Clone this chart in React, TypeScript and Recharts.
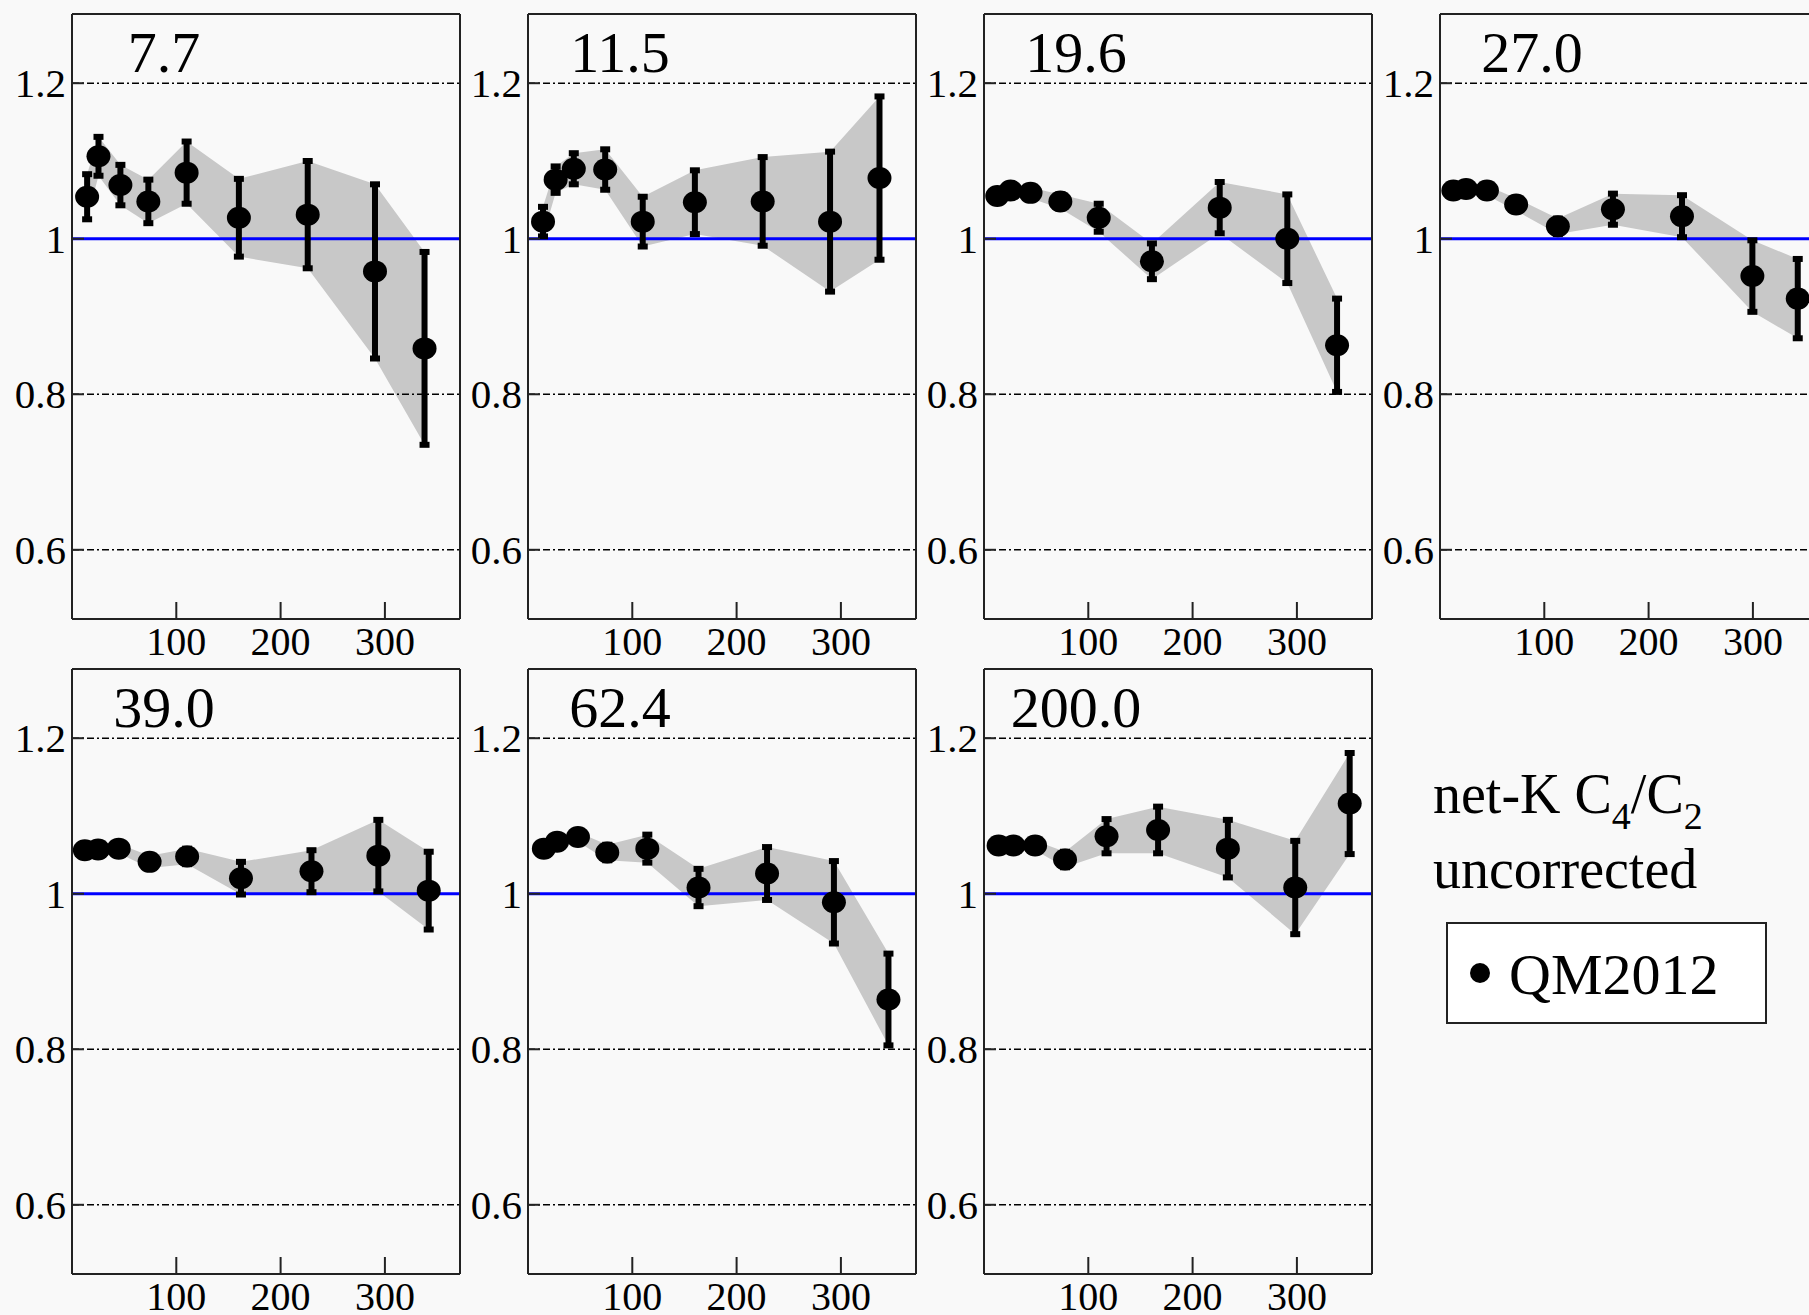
import React from "react";
import {
  ComposedChart,
  Area,
  Scatter,
  ErrorBar,
  XAxis,
  YAxis,
  ReferenceLine,
} from "recharts";

// beam energies (GeV), one panel each
const titles = ["7.7", "11.5", "19.6", "27.0", "39.0", "62.4", "200.0"];

// <Npart> of each centrality bin, C4/C2 value, error half-length
const x77 = [14.5, 25.4, 46.4, 73.2, 109.9, 160, 226, 290.5, 338];
const y77 = [1.054, 1.106, 1.069, 1.048, 1.085, 1.027, 1.031, 0.958, 0.859];
const e77 = [0.029, 0.025, 0.026, 0.028, 0.04, 0.05, 0.069, 0.112, 0.124];

const x115 = [14.4, 26.5, 43.9, 74, 110, 160, 225, 289.6, 337];
const y115 = [1.022, 1.076, 1.09, 1.089, 1.022, 1.047, 1.048, 1.022, 1.078];
const e115 = [0.019, 0.017, 0.02, 0.026, 0.032, 0.041, 0.057, 0.09, 0.105];

const x196 = [12.7, 25.5, 44.6, 73.2, 110, 161, 226, 290.8, 338.5];
const y196 = [1.055, 1.062, 1.059, 1.048, 1.027, 0.971, 1.04, 1.0, 0.863];
const e196 = [0.006, 0.006, 0.007, 0.009, 0.018, 0.023, 0.033, 0.057, 0.06];

const x270 = [12.8, 25, 45, 73, 113, 165.8, 232, 299.5, 343];
const y270 = [1.062, 1.064, 1.062, 1.044, 1.016, 1.038, 1.029, 0.952, 0.923];
const e270 = [0.005, 0.005, 0.006, 0.008, 0.01, 0.02, 0.027, 0.046, 0.051];

const x390 = [12.3, 25, 44.8, 74.4, 110.4, 162, 229.6, 293.7, 342];
const y390 = [1.056, 1.057, 1.058, 1.041, 1.048, 1.02, 1.029, 1.049, 1.004];
const e390 = [0.005, 0.005, 0.006, 0.008, 0.01, 0.021, 0.027, 0.046, 0.05];

const x624 = [15.2, 27.9, 47.9, 76, 114.4, 163.5, 229.2, 293.3, 345.6];
const y624 = [1.058, 1.067, 1.073, 1.053, 1.058, 1.008, 1.026, 0.989, 0.864];
const e624 = [0.005, 0.006, 0.006, 0.01, 0.018, 0.024, 0.034, 0.053, 0.059];

const x2000 = [14, 28.3, 49, 77.7, 117.5, 166.9, 233.8, 298.4, 350.6];
const y2000 = [1.062, 1.062, 1.062, 1.044, 1.074, 1.082, 1.058, 1.008, 1.116];
const e2000 = [0.005, 0.005, 0.006, 0.01, 0.022, 0.03, 0.037, 0.06, 0.065];

const xTicks = [100, 200, 300];
const yTicks = [0.6, 0.8, 1, 1.2];
const dashedLevels = [0.6, 0.8, 1.2];

const seriesX = [x77, x115, x196, x270, x390, x624, x2000];
const seriesY = [y77, y115, y196, y270, y390, y624, y2000];
const seriesE = [e77, e115, e196, e270, e390, e624, e2000];

const X_DOMAIN: [number, number] = [0, 372];
const Y_DOMAIN: [number, number] = [0.511, 1.289];

const FONT = "'Liberation Serif', 'Times New Roman', serif";
const FRAME = { stroke: "#222", strokeWidth: 2 };

const PLOT_W = 388;
const PLOT_H = 605;
const Y_AXIS_W = 62;
const TOP_M = 4;
const colLeft = [72, 528, 984, 1440];
const rowTop = [14, 669];

const XTick = (props: any) => {
  const { x, y, payload } = props;
  return (
    <g>
      <line x1={x} y1={y} x2={x} y2={y - 17} stroke="#222" strokeWidth={2} />
      <text x={x} y={y + 36} textAnchor="middle" fontFamily={FONT} fontSize={40} fill="#000">
        {payload.value}
      </text>
    </g>
  );
};

const YTick = (props: any) => {
  const { x, y, payload } = props;
  const v = payload.value;
  return (
    <g>
      <line x1={x} y1={y} x2={x + 12} y2={y} stroke="#222" strokeWidth={2} />
      <text x={x - 6} y={y + 14} textAnchor="end" fontFamily={FONT} fontSize={41} fill="#000">
        {v === 1 ? "1" : v.toFixed(1)}
      </text>
    </g>
  );
};

const Dot = (props: any) => (
  <ellipse cx={props.cx} cy={props.cy} rx={12} ry={11} fill="#000" />
);

function Panel({ idx }: { idx: number }) {
  const xs = seriesX[idx];
  const data = xs.map((x, i) => ({
    x,
    y: seriesY[idx][i],
    err: seriesE[idx][i],
    band: [seriesY[idx][i] - seriesE[idx][i], seriesY[idx][i] + seriesE[idx][i]],
  }));
  const left = colLeft[idx % 4] - Y_AXIS_W;
  const top = rowTop[Math.floor(idx / 4)] - TOP_M;

  return (
    <div style={{ position: "absolute", left, top }}>
      <ComposedChart
        width={Y_AXIS_W + PLOT_W + 4}
        height={TOP_M + PLOT_H + 50}
        data={data}
        margin={{ top: TOP_M, right: 4, bottom: 0, left: 0 }}
      >
        <XAxis
          dataKey="x"
          type="number"
          domain={X_DOMAIN}
          ticks={xTicks}
          interval={0}
          allowDataOverflow
          height={50}
          axisLine={FRAME}
          tickLine={false}
          tickSize={0}
          tickMargin={0}
          tick={<XTick />}
        />
        <YAxis
          type="number"
          domain={Y_DOMAIN}
          ticks={yTicks}
          interval={0}
          allowDataOverflow
          width={Y_AXIS_W}
          axisLine={FRAME}
          tickLine={false}
          tickSize={0}
          tickMargin={0}
          tick={<YTick />}
        />
        <Area
          dataKey="band"
          type="linear"
          stroke="none"
          fill="#c8c8c8"
          fillOpacity={1}
          isAnimationActive={false}
        />
        {dashedLevels.map((v) => (
          <ReferenceLine key={v} y={v} stroke="#000" strokeWidth={1.5} strokeDasharray="7 3 2 3" />
        ))}
        <ReferenceLine y={1} stroke="#0000ff" strokeWidth={3} />
        {/* top and right edges of the frame */}
        <ReferenceLine y={Y_DOMAIN[1]} stroke="#222" strokeWidth={2} />
        <ReferenceLine x={X_DOMAIN[1]} stroke="#222" strokeWidth={2} />
        <Scatter dataKey="y" shape={Dot} isAnimationActive={false}>
          <ErrorBar dataKey="err" direction="y" width={5} strokeWidth={6} stroke="#000" />
        </Scatter>
      </ComposedChart>
    </div>
  );
}

export default function App() {
  return (
    <div
      style={{
        position: "fixed",
        left: 0,
        top: 0,
        width: 1809,
        height: 1315,
        overflow: "hidden",
        background: "#f9f9f9",
      }}
    >
      {titles.map((_, i) => (
        <Panel key={i} idx={i} />
      ))}
      <svg
        width={1809}
        height={1315}
        style={{ position: "absolute", left: 0, top: 0, pointerEvents: "none" }}
      >
        {titles.map((t, i) => (
          <text
            key={t}
            x={colLeft[i % 4] + 92}
            y={rowTop[Math.floor(i / 4)] + 58}
            textAnchor="middle"
            fontFamily={FONT}
            fontSize={58}
            fill="#000"
          >
            {t}
          </text>
        ))}
        <text x={1433} y={813} fontFamily={FONT} fontSize={56} fill="#000">
          net-K C
          <tspan fontSize={38} dy={16}>4</tspan>
          <tspan dy={-16}>/C</tspan>
          <tspan fontSize={38} dy={16}>2</tspan>
        </text>
        <text x={1433} y={888} fontFamily={FONT} fontSize={56} fill="#000">
          uncorrected
        </text>
        <rect x={1447} y={923} width={319} height={100} fill="#fff" stroke="#222" strokeWidth={2} />
        <circle cx={1480} cy={973} r={10} fill="#000" />
        <text x={1509} y={994} fontFamily={FONT} fontSize={58} fill="#000">
          QM2012
        </text>
      </svg>
    </div>
  );
}
